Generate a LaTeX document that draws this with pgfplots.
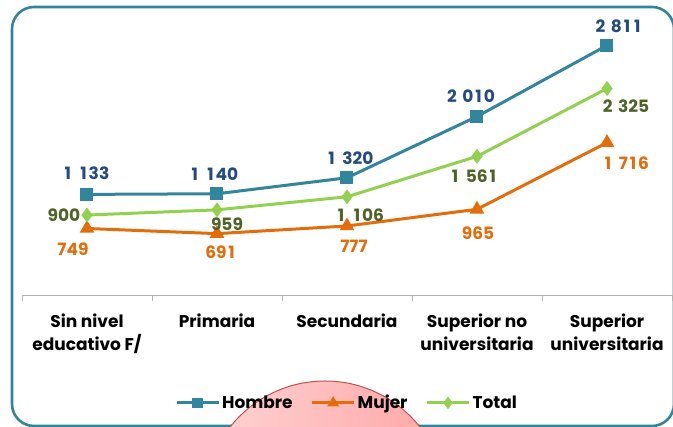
\documentclass[border=0pt]{standalone}
\usepackage{pgfplots}
\pgfplotsset{compat=1.18}
\usepackage{pgfplotstable}
\usepackage{fontspec}
\setmainfont{Poppins}
\newcommand{\I}{\makebox[0.6em][c]{1}}
\newcommand{\s}{\hspace{0.33em}}
\definecolor{hom}{HTML}{31859C}
\definecolor{muj}{HTML}{E46C0A}
\definecolor{tot}{HTML}{92D050}
\definecolor{homlab}{HTML}{244A82}
\definecolor{totlab}{HTML}{4F6228}
\definecolor{frm}{HTML}{31849B}
\definecolor{circ}{HTML}{C0504D}

\pgfplotstableread{
x y lab dx dy
0 1133 {\I\s\I33} -1 21
1 1140 {\I\s\I40} -3 20
2 1320 {\I\s320} 3 20
3 2010 {2\s0\I0} -6 20
4 2811 {2\s8\I\I} 12 19
}\hombre
\pgfplotstableread{
x y lab dx dy
0 749 {749} -14 -21
1 691 {69\I} 4 -19
2 777 {777} 7 -20
3 965 {965} 1 -24
4 1716 {\I\s7\I6} 19 -21
}\mujer
\pgfplotstableread{
x y lab dx dy
0 900 {900} -23 0
1 959 {959} 10 -14
2 1106 {\I\s\I06} 13 -18
3 1561 {\I\s56\I} -3 -20
4 2325 {2\s325} 19 -18
}\total

\begin{document}
\begin{tikzpicture}[x=1pt,y=1pt]
\useasboundingbox (0,0) rectangle (673,427);
\clip (0,0) rectangle (673,427);
\draw[frm, line width=2.6pt, rounded corners=22pt] (12,1) rectangle (674,420);
\draw[circ, line width=1pt, left color=red!17, right color=red!35] (325,-75) circle (121);
\begin{axis}[
  at={(22pt,132pt)}, anchor=south west,
  scale only axis, width=650pt, height=266.4pt,
  xmin=-0.5, xmax=4.5, ymin=0, ymax=3000,
  axis y line=none, axis x line=bottom,
  x axis line style={-, draw=gray!60, line width=0.8pt},
  ytick=\empty,
  xtick={0,1,2,3,4},
  xticklabels={{Sin nivel\\educativo F/},{Primaria},{Secundaria},{Superior no\\universitaria},{Superior\\universitaria}},
  xticklabel style={align=center, font=\fontsize{17}{23}\selectfont\bfseries, anchor=north, yshift=-15pt},
  major tick length=0pt,
  minor xtick={-0.5,0.5,1.5,2.5,3.5,4.5},
  minor tick length=6pt,
  tick align=outside, xtick pos=bottom,
  minor tick style={gray!60, line width=0.8pt},
  clip=false,
  legend columns=3,
  legend style={at={(0.5,-0.405)}, anchor=center, draw=none, fill=none,
    font=\fontsize{17}{18}\selectfont\bfseries,
    /tikz/every even column/.append style={column sep=16pt}},
  legend image code/.code={\draw[mark repeat=2,mark phase=2,#1,mark size=3.8pt] plot coordinates {(0pt,0pt)(21pt,0pt)(42pt,0pt)};},
  point meta=explicit symbolic,
  nodes near coords,
  visualization depends on={\thisrow{dx} \as \dx},
  visualization depends on={\thisrow{dy} \as \dy},
  nodes near coords style={anchor=center, xshift=\dx pt, yshift=\dy pt, font=\fontsize{17}{18}\selectfont\bfseries},
]
\addplot[hom, line width=3pt, mark=square*, mark size=5pt, mark options={solid},
  nodes near coords style={text=homlab}] table[x=x, y=y, meta=lab] {\hombre};
\addlegendentry{Hombre}
\addplot[muj, line width=3pt, mark=triangle*, mark size=5.5pt, mark options={solid},
  nodes near coords style={text=muj}] table[x=x, y=y, meta=lab] {\mujer};
\addlegendentry{Mujer}
\addplot[tot, line width=3pt, mark=diamond*, mark size=5pt, mark options={solid},
  nodes near coords style={text=totlab}] table[x=x, y=y, meta=lab] {\total};
\addlegendentry{Total}
\end{axis}
\end{tikzpicture}
\end{document}
